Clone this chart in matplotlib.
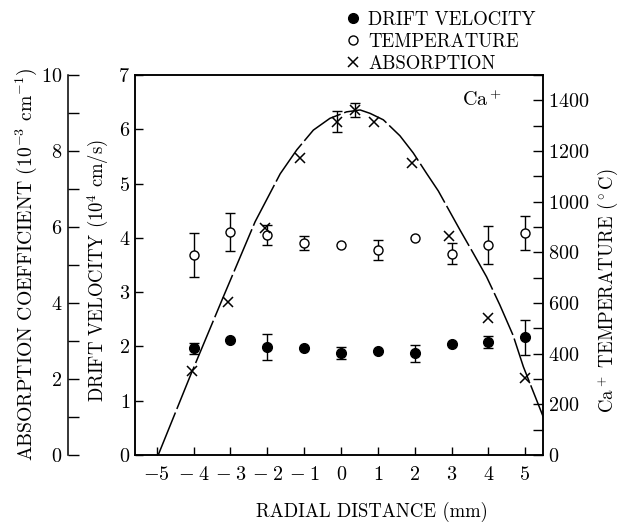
import numpy as np
import matplotlib
matplotlib.use("Agg")
import matplotlib.pyplot as plt
from matplotlib.ticker import MultipleLocator

plt.rcParams['font.family'] = ['cmr10', 'DejaVu Serif']
plt.rcParams['mathtext.fontset'] = 'cm'
plt.rcParams['axes.formatter.use_mathtext'] = True

# radial positions (mm)
pos = np.array([-4, -3, -2, -1, 0, 1, 2, 3, 4, 5])

# drift velocity (10^4 cm/s), filled circles
drift = np.array([1.965, 2.12, 1.995, 1.965, 1.885, 1.915, 1.87, 2.04, 2.075, 2.17])
drift_err = np.array([0.10, 0, 0.24, 0, 0.11, 0, 0.16, 0, 0.11, 0.32])

# Ca+ temperature (C), open circles
temp = np.array([789, 880, 868, 838, 829, 809, 855, 795, 829, 877])
temp_err = np.array([87, 76, 41, 27, 0, 41, 0, 43, 75, 66])

# absorption coefficient (10^-3 cm^-1), crosses
abs_x = np.array([-4.03, -3.06, -2.07, -1.11, -0.12, 0.39, 0.9, 1.92, 2.94, 4.0, 4.99])
abs_val = np.array([2.21, 4.03, 5.97, 7.82, 8.77, 9.08, 8.77, 7.69, 5.76, 3.6, 2.02])
abs_err = np.array([0, 0, 0, 0, 0.28, 0.19, 0, 0, 0, 0, 0])

# dashed fit curve
fit_x = [-4.96, -4.1, -3.19, -2.33, -1.65, -1.2, -0.75, -0.3, 0.15, 0.52, 0.79,
         1.15, 1.6, 1.96, 2.33, 2.64, 3.23, 3.59, 3.95, 4.31, 4.67, 4.95, 5.49]
fit_y = [0.0, 2.06, 4.17, 6.14, 7.4, 8.03, 8.55, 8.86, 9.03, 9.08, 8.99,
         8.82, 8.4, 7.95, 7.4, 6.95, 5.92, 5.31, 4.69, 3.95, 3.15, 2.32, 1.0]

xtick_vals = [-5, -4, -3, -2, -1, 0, 1, 2, 3, 4, 5]
xtick_text = [r'$-5$', r'$-\;4$', r'$-\;3$', r'$-\;2$', r'$-\;1$', '0', '1', '2', '3', '4', '5']

fs = 13.5      # label text
tfs = 14.5     # tick numbers
fig = plt.figure(figsize=(6.19, 5.22), dpi=100)
ax = fig.add_axes([135/619, 1-455/522, 408.3/619, 380/522])
ax_t = ax.twinx()
ax_a = ax.twinx()

# far-left absorption axis
ax_a.spines['left'].set_position(('axes', -0.164))
ax_a.spines['left'].set_visible(True)
for s in ['right', 'top', 'bottom']:
    ax_a.spines[s].set_visible(False)
ax_a.yaxis.set_ticks_position('left')
ax_a.set_ylim(0, 10)
ax_a.yaxis.set_major_locator(MultipleLocator(2))
ax_a.yaxis.set_minor_locator(MultipleLocator(1))
ax_a.tick_params(axis='y', which='both', direction='in', length=8, width=1, labelsize=tfs, pad=4)

ax.set_xlim(-5.59, 5.49)
ax.set_ylim(0, 7)
ax.set_xticks(xtick_vals)
ax.set_xticklabels(xtick_text)
ax.set_yticks(range(8))
ax.tick_params(axis='both', direction='in', length=6, width=1, labelsize=tfs)
ax.tick_params(axis='x', pad=8)

ax_t.set_ylim(0, 1500)
ax_t.set_yticks(range(0, 1401, 200))
ax_t.yaxis.set_minor_locator(MultipleLocator(100))
ax_t.tick_params(axis='y', which='both', direction='in', length=7, width=1, labelsize=tfs)

for a in (ax, ax_t, ax_a):
    for s in a.spines.values():
        s.set_linewidth(1.1)

# absorption: fit curve and crosses
ax_a.plot(fit_x, fit_y, color='black', lw=1.1, dashes=(30, 2.5), clip_on=True)
m = abs_err > 0
ax_a.errorbar(abs_x[m], abs_val[m], yerr=abs_err[m], fmt='none', ecolor='black',
              elinewidth=1, capsize=3.8, capthick=1)
h_abs, = ax_a.plot(abs_x, abs_val, 'x', color='black', ms=7, mew=1.1, label='ABSORPTION')

# drift velocity
m = drift_err > 0
ax.errorbar(pos[m], drift[m], yerr=drift_err[m], fmt='none', ecolor='black',
            elinewidth=1, capsize=3.8, capthick=1)
h_drift, = ax.plot(pos, drift, 'o', color='black', ms=7, label='DRIFT VELOCITY')

# temperature
m = temp_err > 0
ax_t.errorbar(pos[m], temp[m], yerr=temp_err[m], fmt='none', ecolor='black',
              elinewidth=1, capsize=3.8, capthick=1)
h_temp, = ax_t.plot(pos, temp, 'o', mfc='white', mec='black', ms=6.5, mew=1,
                    label='TEMPERATURE')

ax_t.text(462/619, 1-100/522, r'Ca$^+$', transform=fig.transFigure, fontsize=tfs,
          ha='left', va='center')

fig.text(26.7/619, 1-264/522, r'ABSORPTION COEFFICIENT (10$^{-3}$ cm$^{-1}$)',
         rotation=90, ha='center', va='center', fontsize=fs + 0.7)
fig.text(98/619, 1-270/522, r'DRIFT VELOCITY (10$^4$ cm/s)',
         rotation=90, ha='center', va='center', fontsize=fs)
fig.text(608/619, 1-291/522, r'Ca$^+$ TEMPERATURE $(^\circ$C)',
         rotation=90, ha='center', va='center', fontsize=fs)
fig.text(371.5/619, 1-512/522, 'RADIAL DISTANCE (mm)', ha='center', va='center', fontsize=fs)

fig.legend(handles=[h_drift, h_temp, h_abs], loc='upper left',
           bbox_to_anchor=(345/619, 1-11/522), frameon=False, fontsize=fs,
           handlelength=0.9, handletextpad=0.35, labelspacing=0.22, borderpad=0,
           borderaxespad=0)

fig.savefig('out.png', dpi=100)
